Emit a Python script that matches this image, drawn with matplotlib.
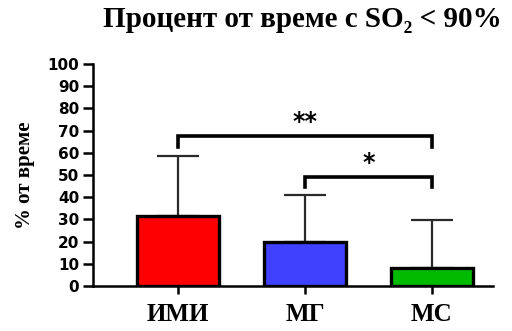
import matplotlib.pyplot as plt

groups = ["ИМИ", "МГ", "МС"]
means = [31.5, 20, 8]
sd_upper = [27, 21, 21.5]
bar_colors = ["#ff0000", "#4040ff", "#00bb00"]

# significance brackets: (left group, right group, height, leg drop, label)
comparisons = [(0, 2, 67.5, 5, "**"), (1, 2, 49, 4.5, "*")]

fig = plt.figure(figsize=(5.12, 3.31), dpi=100)
ax = fig.add_axes([0.1816, 0.136, 0.781, 0.6707])

x = list(range(len(groups)))
ax.bar(x, means, width=0.65, color=bar_colors, edgecolor="black",
       linewidth=2.4, zorder=2)
ax.errorbar(x, means, yerr=[[0] * len(means), sd_upper], fmt="none",
            ecolor="#2a2a2a", elinewidth=1.6, capsize=15, capthick=1.6,
            zorder=1)

for left, right, h, drop, label in comparisons:
    ax.plot([left, left, right, right], [h - drop, h, h, h - drop],
            color="black", linewidth=2.6, solid_joinstyle="miter",
            clip_on=False)
    ax.text((left + right) / 2, h + 0.8, label, ha="center", va="bottom",
            fontsize=17, fontweight="bold", family="DejaVu Sans")

ax.set_xlim(-0.67, 2.48)
ax.set_ylim(0, 100)
ax.set_yticks(range(0, 101, 10))
ax.set_xticks(x)
ax.set_xticklabels(groups, family="Liberation Serif", fontweight="bold",
                   fontsize=18)
for lbl in ax.get_yticklabels():
    lbl.set_family("DejaVu Sans")
    lbl.set_fontweight("bold")
    lbl.set_fontsize(11)

for side in ("top", "right"):
    ax.spines[side].set_visible(False)
for side in ("left", "bottom"):
    ax.spines[side].set_linewidth(1.8)
ax.tick_params(axis="y", direction="out", length=7, width=1.8, pad=3)
ax.tick_params(axis="x", direction="out", length=6, width=1.8, pad=6)

ax.set_ylabel("% от време", family="Liberation Serif", fontweight="bold",
              fontsize=15, labelpad=9)
fig.text(0.59, 0.94, "Процент от време с SO₂ < 90%", ha="center",
         va="center", family="Liberation Serif", fontweight="bold",
         fontsize=21)

fig.savefig("out.png", dpi=100)
